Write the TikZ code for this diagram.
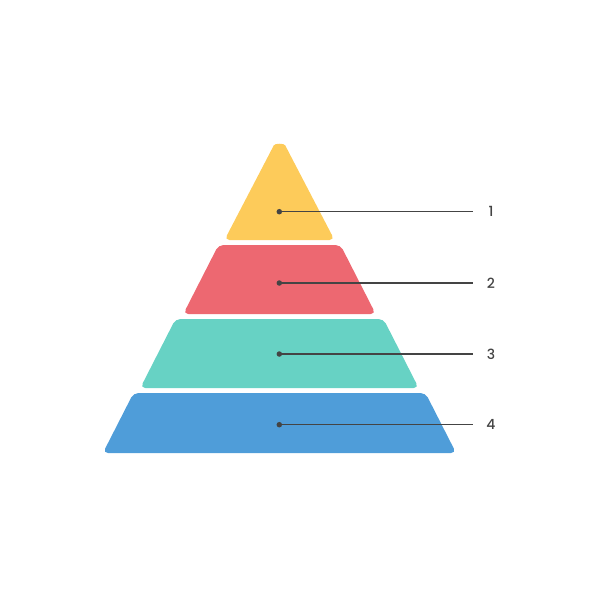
\documentclass[tikz,border=0pt]{standalone}
\usepackage{fontspec}
\setmainfont{Poppins Medium}
\usetikzlibrary{positioning}
\definecolor{lvlyellow}{RGB}{253,203,90}
\definecolor{lvlred}{RGB}{237,104,113}
\definecolor{lvlteal}{RGB}{103,210,196}
\definecolor{lvlblue}{RGB}{79,157,217}
\definecolor{leadgray}{RGB}{68,68,68}
\tikzset{
  layer/.style={rounded corners=5pt},
  pin/.style={circle, fill=leadgray, inner sep=0pt, minimum size=5.5pt},
  leader/.style={leadgray, line width=1.5pt},
  lbl/.style={font=\fontsize{14}{14}\selectfont, text=leadgray, inner sep=0pt},
}
\begin{document}
\begin{tikzpicture}[x=1pt, y=-1pt]
  \useasboundingbox (0,0) rectangle (600,600);
  % pyramid layers, top to bottom
  \fill[lvlyellow, layer] (279.5,240) -- (224.5,240) -- (271.5,149.8)
       .. controls (274.8,143.2) and (284.2,143.2) .. (287.5,149.8) -- (334.5,240) -- cycle;
  \fill[lvlred, layer] (279.5,245) -- (218.5,245) -- (183.3,314) -- (375.7,314)
       -- (340.5,245) -- cycle;
  \fill[lvlteal, layer] (279.5,319) -- (175.5,319) -- (140.3,388) -- (418.7,388)
       -- (383.5,319) -- cycle;
  \fill[lvlblue, layer] (279.5,393) -- (133.5,393) -- (102.9,453) -- (456.1,453)
       -- (425.5,393) -- cycle;
  % pins, leaders and labels
  \node[pin] (p1) at (279.3,211.7) {};
  \node[pin] (p2) at (279.3,283) {};
  \node[pin] (p3) at (279.3,354) {};
  \node[pin] (p4) at (279.3,424.7) {};
  \coordinate (e1) at (473,211.7);
  \coordinate (e2) at (473,283);
  \coordinate (e3) at (473,354);
  \coordinate (e4) at (473,424.7);
  \node[lbl, right=18pt of e1, anchor=center] (l1) {1};
  \node[lbl, right=18pt of e2, anchor=center] (l2) {2};
  \node[lbl, right=18pt of e3, anchor=center] (l3) {3};
  \node[lbl, right=18pt of e4, anchor=center] (l4) {4};
  \draw[leader] (p1.center) -- (e1);
  \draw[leader] (p2.center) -- (e2);
  \draw[leader] (p3.center) -- (e3);
  \draw[leader] (p4.center) -- (e4);
\end{tikzpicture}
\end{document}
